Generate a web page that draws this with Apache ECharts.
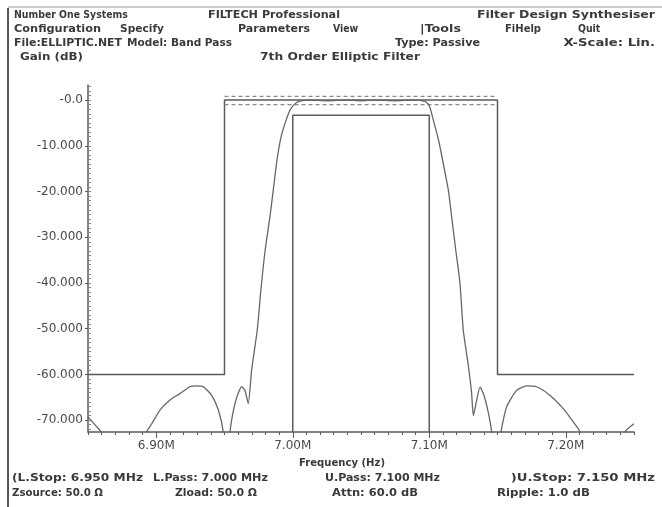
<!DOCTYPE html>
<html><head><meta charset="utf-8">
<script src="https://cdn.jsdelivr.net/npm/echarts@6/dist/echarts.min.js"></script>
<style>html,body{margin:0;padding:0;background:#fff}#c{width:662px;height:507px}</style>
</head><body><div id="c"></div>
<script>
// ---- data ----
const yMin = -72.6, yMax = 3.3;
const xMin = 6.85, xMax = 7.25;
const xTickLabels = [6.90, 7.00, 7.10, 7.20];
const yTickLabels = [0, -10, -20, -30, -40, -50, -60, -70];

// filter response (MHz, dB)
const respFreq = [6.850,6.855,6.860,6.862,6.891,6.8930,6.8967,6.9027,6.9101,6.9174,6.9247,6.9296,6.9345,6.9406,6.9455,6.9491,6.9505,6.9525,6.9540,6.9580,6.9626,6.9650,6.9674,6.9699,6.9740,6.9765,6.9797,6.9833,6.9860,6.9885,6.9915,6.9950,6.9980,7.0010,7.0045,7.0120,7.0250,7.0400,7.0500,7.0600,7.0750,7.0880,7.0969,7.1000,7.1030,7.1070,7.1103,7.1140,7.1164,7.1195,7.1225,7.1249,7.1286,7.1310,7.1323,7.1345,7.1372,7.1400,7.1430,7.1457,7.1470,7.1510,7.1526,7.1567,7.1640,7.1713,7.1787,7.1885,7.1982,7.2055,7.2104,7.2130,7.2410,7.2434,7.2500];
const respGain = [-69.3,-71.0,-72.8,-80,-80,-72.6,-70.8,-67.8,-65.6,-64.2,-62.7,-62.5,-62.7,-64.6,-67.8,-72.6,-80,-80,-72.6,-66.0,-62.7,-63.5,-66.4,-59.0,-50.3,-42.0,-33.0,-25.5,-19.0,-13.0,-8.0,-4.5,-2.2,-1.0,-0.3,0,-0.15,0,-0.15,0,-0.15,0,-0.3,-1.2,-4.4,-9.0,-13.9,-19.7,-25.5,-33.0,-40.0,-50.3,-58.0,-64.0,-69.0,-66.0,-62.8,-64.5,-68.0,-72.6,-80,-80,-72.6,-67.1,-63.5,-62.5,-62.7,-64.6,-67.5,-70.4,-72.6,-80,-80,-72.6,-70.8];

// stop-band mask
const maskFreq = [6.85, 6.95, 6.95, 7.15, 7.15, 7.25];
const maskGain = [-60, -60, 0, 0, -60, -60];
// ripple limits (dashed)
const rippleHiFreq = [6.95, 7.15];
const rippleHiGain = [0.8, 0.8];
const rippleLoFreq = [6.95, 7.15];
const rippleLoGain = [-1.0, -1.0];
// pass-band box
const boxFreq = [7.00, 7.00, 7.10, 7.10];
const boxGain = [-72.6, -3.3, -3.3, -72.6];

// screen texts
const headerTexts = [
  'Number One Systems', 'FILTECH Professional', 'Filter Design Synthesiser',
  'Configuration', 'Specify', 'Parameters', 'View', '|Tools', 'FiHelp', 'Quit',
  'File:ELLIPTIC.NET', 'Model: Band Pass', 'Type: Passive', 'X-Scale: Lin.',
  'Gain (dB)', '7th Order Elliptic Filter'
];
const footerTexts = [
  'Frequency (Hz)',
  '(L.Stop: 6.950 MHz', 'L.Pass: 7.000 MHz', 'U.Pass: 7.100 MHz', ')U.Stop: 7.150 MHz',
  'Zsource: 50.0 \u03a9', 'Zload: 50.0 \u03a9', 'Attn: 60.0 dB', 'Ripple: 1.0 dB'
];
// layout boxes [left, right, centerY, anchor] (positions only)
const headerBoxes = [
  [14,124,15,'l'],[208,340,15,'l'],[477,655,15,'r'],
  [14,101,29,'l'],[120,164,29,'l'],[238,310,29,'l'],[333,357,29,'l'],[420,461,29,'l'],[505,541,29,'l'],[578,600,29,'l'],
  [14,122,43,'l'],[127,232,43,'l'],[395,480,43,'l'],[540,655,43,'r'],
  [20,83,57,'l'],[260,420,57,'c']
];
const footerBoxes = [
  [299,385,463,'c'],
  [12,143,478,'l'],[153,268,478,'l'],[325,440,478,'l'],[492,655,478,'r'],
  [12,103,493,'l'],[175,257,493,'l'],[332,418,493,'l'],[497,590,493,'l']
];

// ---- helpers ----
const zip = (a, b) => a.map((v, i) => [v, b[i]]);
const minorX = []; for (let v = 685; v <= 725; v++) minorX.push(v / 100);
const minorY = []; for (let v = -72; v <= 3; v++) minorY.push(v);

const lineCol = '#5a5a5a';
const txt = '#3a3a3a';
const font = 'DejaVu Sans';
const textFont = 'bold 11px "DejaVu Sans"';
const mctx = document.createElement('canvas').getContext('2d');
mctx.font = textFont;

function T(s, box) {
  const w = mctx.measureText(s).width;
  const target = box[1] - box[0];
  const sx = Math.max(0.85, Math.min(1.2, target / w));
  const ww = w * sx;
  let x = box[0];
  if (box[3] === 'r') x = box[1] - ww;
  else if (box[3] === 'c') x = (box[0] + box[1]) / 2 - ww / 2;
  return {type: 'text', x: x, y: box[2], scaleX: sx, originX: 0, originY: 0,
    style: {text: s, fill: txt, font: textFont, textAlign: 'left', textVerticalAlign: 'middle'}};
}
const texts = headerTexts.map((s, i) => T(s, headerBoxes[i]))
  .concat(footerTexts.map((s, i) => T(s, footerBoxes[i])));

const chart = echarts.init(document.getElementById('c'));
chart.setOption({
  backgroundColor: '#ffffff',
  animation: false,
  grid: {left: 88, right: 28, top: 85, bottom: 75},
  xAxis: [{
    type: 'value', min: xMin, max: xMax, position: 'bottom',
    axisLine: {show: true, onZero: false, lineStyle: {color: lineCol, width: 1.5}},
    axisTick: {show: true, length: 6, customValues: xTickLabels, lineStyle: {color: lineCol}},
    axisLabel: {customValues: xTickLabels, formatter: v => v.toFixed(2) + 'M',
      color: '#4a4a4a', fontFamily: font, fontSize: 12, margin: 8},
    splitLine: {show: false}
  }, {
    type: 'value', min: xMin, max: xMax, position: 'bottom',
    axisLine: {show: false, onZero: false},
    axisTick: {show: true, length: 3, customValues: minorX, lineStyle: {color: lineCol}},
    axisLabel: {show: false}, splitLine: {show: false}
  }],
  yAxis: [{
    type: 'value', min: yMin, max: yMax, position: 'left',
    axisLine: {show: true, onZero: false, lineStyle: {color: lineCol, width: 1.5}},
    axisTick: {show: true, length: 3, customValues: yTickLabels, lineStyle: {color: lineCol}},
    axisLabel: {customValues: yTickLabels,
      formatter: v => v === 0 ? '-0.0' : v.toFixed(3),
      color: '#4a4a4a', fontFamily: font, fontSize: 12, margin: 5},
    splitLine: {show: false}
  }, {
    type: 'value', min: yMin, max: yMax, position: 'left',
    axisLine: {show: false, onZero: false},
    axisTick: {show: true, inside: true, length: 3, customValues: minorY, lineStyle: {color: '#888'}},
    axisLabel: {show: false}, splitLine: {show: false}
  }],
  series: [
    {type: 'line', name: 'mask', data: zip(maskFreq, maskGain), showSymbol: false,
      lineStyle: {color: lineCol, width: 1.5}},
    {type: 'line', name: 'rippleHi', data: zip(rippleHiFreq, rippleHiGain), showSymbol: false,
      lineStyle: {color: '#8a8a8a', width: 1.2, type: [4, 3]}},
    {type: 'line', name: 'rippleLo', data: zip(rippleLoFreq, rippleLoGain), showSymbol: false,
      lineStyle: {color: '#8a8a8a', width: 1.2, type: [4, 3]}},
    {type: 'line', name: 'box', data: zip(boxFreq, boxGain), showSymbol: false,
      lineStyle: {color: lineCol, width: 1.5}},
    {type: 'line', name: 'response', data: zip(respFreq, respGain), showSymbol: false,
      smooth: 0.2, clip: true, lineStyle: {color: '#666', width: 1.3}}
  ],
  graphic: [
    {type: 'line', shape: {x1: 8, y1: 8, x2: 8, y2: 507}, style: {stroke: '#555', lineWidth: 2}},
    {type: 'line', shape: {x1: 8, y1: 7, x2: 662, y2: 7}, style: {stroke: '#999', lineWidth: 1}}
  ].concat(texts)
});
</script></body></html>
